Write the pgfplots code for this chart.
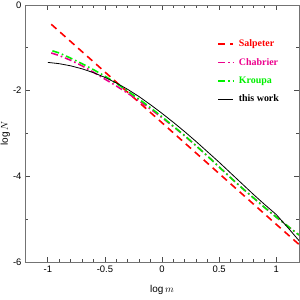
\documentclass[border=0pt]{standalone}
\usepackage{fontspec}
\setmainfont{Liberation Sans}
\newfontfamily\seriffont{Liberation Serif}
\usepackage{pgfplots}
\pgfplotsset{compat=1.18}
\definecolor{kgreen}{RGB}{0,240,0}
\begin{document}
\begin{tikzpicture}
\begin{axis}[name=ax, scale only axis, width=274bp, height=257bp,
  xmin=-1.2, xmax=1.2, ymin=-6, ymax=0,
  xtick={-1,-0.5,0,0.5,1}, ytick={-6,-4,-2,0},
  minor x tick num=4, minor y tick num=1,
  tick align=inside, major tick length=5bp, minor tick length=3bp,
  axis line style={black!55, line width=0.9bp},
  every tick/.style={black!70, line width=0.7bp},
  tick label style={font=\fontsize{9.5}{11}\selectfont},
  /pgf/number format/assume math mode=true,
  xlabel={$\log m$}, ylabel={$\log N$},
  xlabel style={at={(axis description cs:0.5,-0.11)}, anchor=center, font=\fontsize{10}{12}\selectfont},
  ylabel style={at={(axis description cs:-0.072,0.5)}, anchor=center, font=\fontsize{10}{12}\selectfont},
  legend style={draw=none, fill=none, at={(axis description cs:0.69,0.88)}, anchor=north west,
    row sep=6bp, font=\seriffont\bfseries\fontsize{10}{12}\selectfont},
  legend cell align=left,
  legend image code/.code={\draw[#1] (0bp,0bp) -- (15bp,0bp); \path (18bp,0bp);},
]
\addplot[red, line width=1.6bp, dash pattern=on 7bp off 5bp] coordinates {
(-0.97,-0.45) (-0.5,-1.564) (0,-2.749) (0.5,-3.934) (1.0,-5.119) (1.2,-5.59)};
\addlegendentry{\textcolor{red}{Salpeter}}
\addplot[magenta, line width=1.6bp, dash pattern=on 7bp off 3bp on 1.6bp off 3bp] coordinates {
(-0.97,-1.12) (-0.9,-1.18) (-0.8,-1.29) (-0.7,-1.42) (-0.6,-1.57) (-0.5,-1.73)
(-0.4,-1.89) (-0.3,-2.06) (-0.2,-2.24) (-0.1,-2.43) (0.0,-2.63) (0.1,-2.84)
(0.2,-3.06) (0.3,-3.29) (0.4,-3.53) (0.5,-3.78) (0.6,-4.03) (0.7,-4.27)
(0.8,-4.50) (0.9,-4.73) (1.0,-4.95) (1.1,-5.16) (1.2,-5.37)};
\addlegendentry{\textcolor{magenta}{Chabrier}}
\addplot[kgreen, line width=1.6bp, dash pattern=on 7bp off 3bp on 1.6bp off 3bp] coordinates {
(-0.96,-1.07) (-0.9,-1.12) (-0.8,-1.24) (-0.7,-1.37) (-0.6,-1.51) (-0.5,-1.66)
(-0.4,-1.83) (-0.3,-2.01) (-0.2,-2.20) (-0.1,-2.40) (0.0,-2.61) (0.1,-2.83)
(0.2,-3.05) (0.3,-3.29) (0.4,-3.53) (0.5,-3.78) (0.6,-4.03) (0.7,-4.27)
(0.8,-4.50) (0.9,-4.73) (1.0,-4.95) (1.1,-5.16) (1.2,-5.37)};
\addlegendentry{\textcolor{kgreen}{Kroupa}}
\addplot[black, line width=0.8bp] coordinates {
(-1.0,-1.34) (-0.9,-1.37) (-0.8,-1.42) (-0.7,-1.49) (-0.6,-1.58) (-0.5,-1.69)
(-0.4,-1.82) (-0.3,-1.97) (-0.2,-2.14) (-0.1,-2.33) (0.0,-2.53) (0.1,-2.74)
(0.2,-2.96) (0.3,-3.19) (0.4,-3.43) (0.5,-3.67) (0.6,-3.92) (0.7,-4.17)
(0.8,-4.42) (0.9,-4.66) (1.0,-4.89) (1.1,-5.19) (1.2,-5.50)};
\addlegendentry{this work}
\end{axis}
\pgfresetboundingbox
\path ([shift={(-25bp,-38bp)}]ax.south west) rectangle ([shift={(1bp,5bp)}]ax.north east);
\end{tikzpicture}
\end{document}
